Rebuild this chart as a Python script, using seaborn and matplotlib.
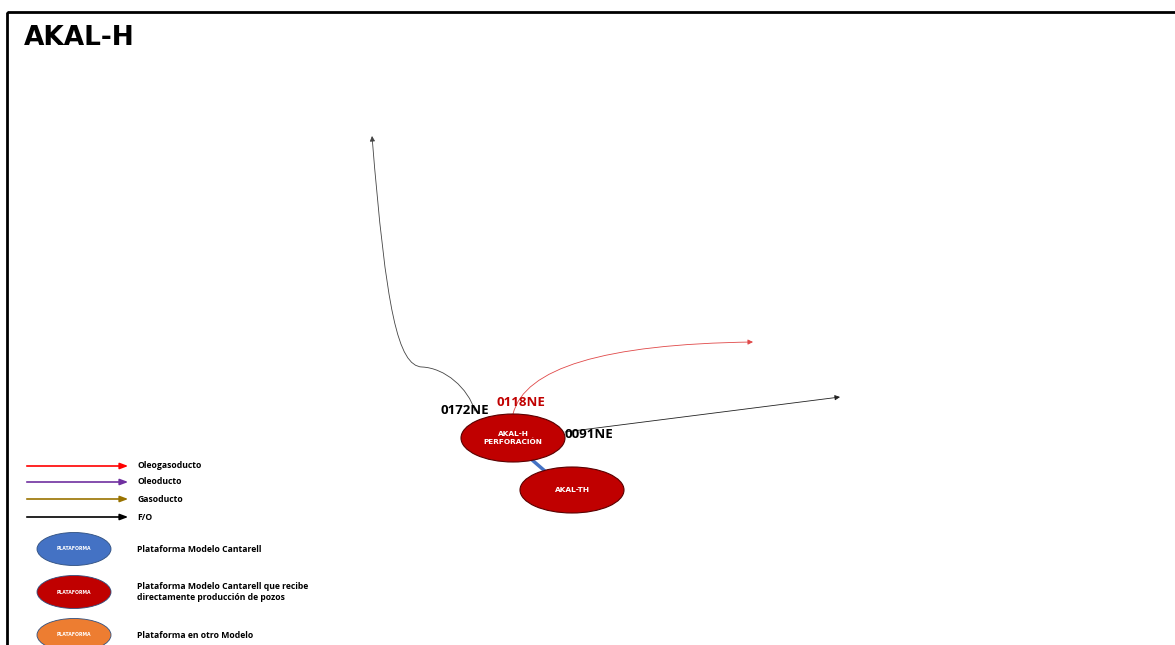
"""diagrama de ductos AKAL-H"""
import numpy as np
import pandas as pd
import seaborn as sns
import matplotlib.pyplot as plt
from matplotlib.patches import Ellipse, Rectangle, FancyArrowPatch
from matplotlib.path import Path

# plataformas
node_names = ["AKAL-H\nPERFORACIÓN", "AKAL-TH"]
node_x = [513, 572]
node_y = [438, 490]
node_w = [104, 104]
node_h = [48, 46]

# ductos (etiqueta, color)
duct_labels = ["0172NE", "0118NE", "0091NE"]
duct_label_x = [465, 521, 589]
duct_label_y = [411, 402, 435]
duct_label_colors = ["black", "#C00000", "black"]

# leyenda
legend_line_labels = ["Oleogasoducto", "Oleoducto", "Gasoducto", "F/O"]
legend_line_colors = ["#FF0000", "#7030A0", "#997300", "black"]
legend_line_y = [466, 482, 499, 517]
legend_node_labels = ["Plataforma Modelo Cantarell",
                      "Plataforma Modelo Cantarell que recibe\ndirectamente producción de pozos",
                      "Plataforma en otro Modelo"]
legend_node_colors = ["#4472C4", "#C00000", "#ED7D31"]
legend_node_y = [549, 592, 635]

sns.set_theme(style="white")
plt.rcParams["font.family"] = ["Open Sans", "DejaVu Sans"]
plt.rcParams["text.color"] = "black"

fig = plt.figure(figsize=(11.75, 6.45), dpi=100)
ax = fig.add_axes([0, 0, 1, 1])
ax.set_xlim(0, 1175)
ax.set_ylim(645, 0)
ax.axis("off")

# marco
ax.add_patch(Rectangle((7, 12), 1200, 700, fill=False, lw=2, ec="black"))
ax.text(24, 38, "AKAL-H", fontsize=19, fontweight="bold", va="center",
        family="DejaVu Sans")

# conexion entre plataformas
conn = pd.DataFrame({"x": [531, 546], "y": [459, 472]})
sns.lineplot(data=conn, x="x", y="y", ax=ax, color="#4472C4", lw=2.5,
             sort=False, estimator=None)


def curve(verts, codes, color, lw=0.6):
    p = FancyArrowPatch(path=Path(verts, codes), arrowstyle="-|>,head_length=3,head_width=1.5",
                        color=color, lw=lw, zorder=1)
    ax.add_patch(p)


# ducto 0172NE (F/O) hacia el norte
curve([(475, 411), (468, 388), (445, 368), (422, 367),
       (398, 366), (386, 310), (372, 136)],
      [Path.MOVETO, Path.CURVE4, Path.CURVE4, Path.CURVE4,
       Path.CURVE4, Path.CURVE4, Path.CURVE4], "#444444")
# ducto 0118NE (oleogasoducto)
curve([(513, 414), (530, 345), (753, 342)],
      [Path.MOVETO, Path.CURVE3, Path.CURVE3], "#E04848")
# ducto 0091NE (F/O)
curve([(565, 432), (840, 397)], [Path.MOVETO, Path.LINETO], "#222222")

for name, x, y, w, h in zip(node_names, node_x, node_y, node_w, node_h):
    ax.add_patch(Ellipse((x, y), w, h, fc="#C00000", ec="#5a0000", lw=0.8, zorder=3))
    ax.text(x, y, name, color="white", fontsize=5.3, fontweight="bold",
            ha="center", va="center", linespacing=1.3, zorder=4,
            family="DejaVu Sans")

for lab, x, y, c in zip(duct_labels, duct_label_x, duct_label_y, duct_label_colors):
    ax.text(x, y, lab, color=c, fontsize=9.5, fontweight="bold",
            ha="center", va="center", zorder=5)

# leyenda
for lab, c, y in zip(legend_line_labels, legend_line_colors, legend_line_y):
    ax.annotate("", xy=(131, y), xytext=(24, y),
                arrowprops=dict(arrowstyle="-|>,head_length=0.4,head_width=0.15",
                                color=c, lw=1.2))
    ax.text(137, y, lab, fontsize=6.2, fontweight="bold", va="center")

for lab, c, y in zip(legend_node_labels, legend_node_colors, legend_node_y):
    ax.add_patch(Ellipse((74, y), 74, 33, fc=c, ec="#2f4f7f", lw=0.6))
    ax.text(74, y, "PLATAFORMA", color="white", fontsize=3.3, fontweight="bold",
            ha="center", va="center", family="DejaVu Sans")
    ax.text(137, y, lab, fontsize=6.2, fontweight="bold", va="center",
            linespacing=1.35)

plt.savefig("out.png", dpi=100)
